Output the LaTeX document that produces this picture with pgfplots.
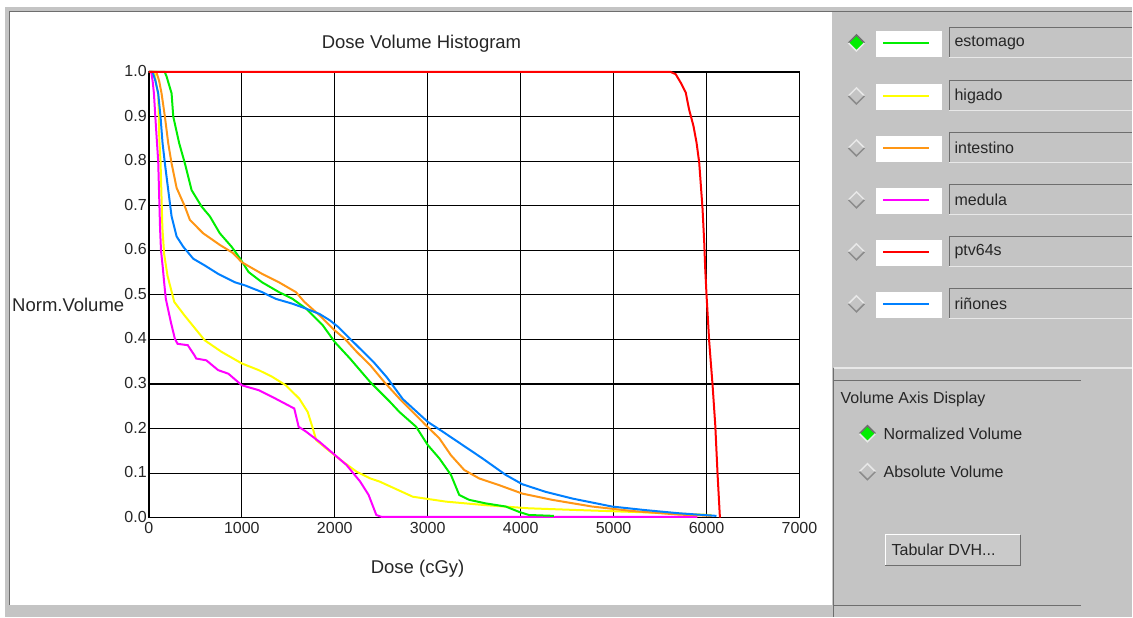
\documentclass[border=0pt]{standalone}
\usepackage{fontspec}
\setmainfont{Liberation Sans}
\usepackage{pgfplots}
\pgfplotsset{compat=1.18}
\definecolor{panel}{RGB}{196,196,196}
\definecolor{dgray}{RGB}{110,110,110}
\definecolor{lgray}{RGB}{232,232,232}
\definecolor{cgreen}{RGB}{0,238,0}
\definecolor{cyellow}{RGB}{255,255,0}
\definecolor{corange}{RGB}{255,150,20}
\definecolor{cmagenta}{RGB}{255,0,255}
\definecolor{cred}{RGB}{255,0,0}
\definecolor{cblue}{RGB}{0,128,255}
\newcommand{\gfont}{\fontsize{16bp}{19bp}\selectfont}
\newcommand{\lfont}{\fontsize{18.5bp}{22bp}\selectfont}
\begin{document}
\begin{tikzpicture}
\begin{scope}[x=1bp,y=-1bp,font=\gfont]
  % background
  \fill[white] (0,0) rectangle (1133,617);
  \fill[panel] (5,7) rectangle (1133,617);
  \fill[white] (10,12) rectangle (833,605);
  \draw[dgray,line width=1bp] (10,605) -- (10,12) -- (833,12);
  \draw[dgray,line width=1bp] (833,12) -- (1133,12);
  % right panel separators
  \draw[lgray,line width=1.5bp] (835,368) -- (1133,368);
  \draw[dgray,line width=1bp] (835,381) -- (1082,381);
  \draw[dgray,line width=1bp] (835,606) -- (1082,606);
  \draw[dgray,line width=1bp] (834,368) -- (834,617);
  % legend rows
  \foreach \yy/\col/\name/\sel in {43/cgreen/estomago/1,96/cyellow/higado/0,148/corange/intestino/0,200/cmagenta/medula/0,252/cred/ptv64s/0,304/cblue/riñones/0}{
    \ifnum\sel=1
      \fill[cgreen] (857,\yy-8) -- (865,\yy) -- (857,\yy+8) -- (849,\yy) -- cycle;
      \draw[dgray,line width=1.5bp] (849,\yy) -- (857,\yy-8) -- (865,\yy);
      \draw[lgray,line width=1.5bp] (849,\yy) -- (857,\yy+8) -- (865,\yy);
    \else
      \draw[lgray,line width=1.5bp] (849,\yy) -- (857,\yy-8) -- (865,\yy);
      \draw[dgray!80,line width=1.5bp] (849,\yy) -- (857,\yy+8) -- (865,\yy);
    \fi
    \fill[white] (877,\yy-12) rectangle (943,\yy+14);
    \draw[\col,line width=2bp] (884,\yy) -- (930,\yy);
    \draw[dgray,line width=1bp] (950,\yy+15) -- (950,\yy-15) -- (1133,\yy-15);
    \draw[lgray,line width=1bp] (950,\yy+15) -- (1133,\yy+15);
    \node[anchor=west,inner sep=0pt,text=black!85] at (955,\yy) {\name};
  }
  % bottom panel
  \node[anchor=west,inner sep=0pt,text=black!85] at (841,400) {Volume Axis Display};
  \fill[cgreen] (868,434-8) -- (876,434) -- (868,434+8) -- (860,434) -- cycle;
  \draw[dgray,line width=1.5bp] (860,434) -- (868,426) -- (876,434);
  \draw[lgray,line width=1.5bp] (860,434) -- (868,442) -- (876,434);
  \node[anchor=west,inner sep=0pt,text=black!85] at (884,434) {Normalized Volume};
  \draw[lgray,line width=1.5bp] (860,472) -- (868,464) -- (876,472);
  \draw[dgray!80,line width=1.5bp] (860,472) -- (868,480) -- (876,472);
  \node[anchor=west,inner sep=0pt,text=black!85] at (884,472) {Absolute Volume};
  \fill[panel!90!white] (886,535) rectangle (1021,566);
  \draw[white,line width=1.2bp] (886,566) -- (886,535) -- (1021,535);
  \draw[dgray,line width=1.5bp] (886,566) -- (1021,566) -- (1021,535);
  \node[anchor=west,inner sep=0pt,text=black!85] at (892,550) {Tabular DVH...};
\end{scope}
\begin{axis}[
  at={(149bp,-518bp)}, anchor=south west,
  scale only axis, width=651bp, height=446bp,
  xmin=0, xmax=7000, ymin=0, ymax=1,
  clip=false,
  font=\gfont,
  xtick={0,1000,2000,3000,4000,5000,6000,7000},
  xticklabels={0,1000,2000,3000,4000,5000,6000,7000},
  ytick={0,0.1,0.2,0.3,0.4,0.5,0.6,0.7,0.8,0.9,1},
  yticklabels={0.0,0.1,0.2,0.3,0.4,0.5,0.6,0.7,0.8,0.9,1.0},
  major tick length=0pt,
  xticklabel style={anchor=north,inner sep=0pt,yshift=-4bp,text=black!85},
  yticklabel style={anchor=east,inner sep=0pt,xshift=-2bp,yshift=1bp,text=black!85},
  grid=major,
  major grid style={black,line width=1.1bp},
  axis line style={black,line width=1.2bp},
  title={Dose Volume Histogram},
  every axis title/.style={at={(axis description cs:0.419,1.063)},anchor=center,inner sep=0pt,text=black!85,font=\lfont},
  xlabel={Dose (cGy)},
  every axis x label/.style={at={(axis description cs:0.413,-0.114)},anchor=center,inner sep=0pt,text=black!85,font=\lfont},
  ylabel={Norm.Volume},
  every axis y label/.style={at={(axis description cs:-0.2104,0.4776)},anchor=west,inner sep=0pt,text=black!85,font=\lfont},
  every axis plot/.append style={line width=2bp},
]
% higado
\addplot[cyellow] coordinates {(0,1) (60,1) (80,0.97) (100,0.952) (112,0.85) (125,0.80) (145,0.65) (165,0.59) (200,0.543) (273,0.484) (382,0.454) (600,0.398) (782,0.372) (1000,0.346) (1182,0.331) (1327,0.316) (1473,0.297) (1618,0.267) (1709,0.237) (1764,0.2) (1800,0.174) (1909,0.155) (2091,0.125) (2236,0.103) (2382,0.088) (2482,0.081) (2839,0.047) (3196,0.036) (3625,0.028) (4089,0.021) (4625,0.017) (5339,0.012) (6054,0.006)};
% medula
\addplot[cmagenta] coordinates {(0,1) (25,1) (40,0.98) (54,0.952) (75,0.88) (100,0.8) (120,0.65) (130,0.6) (150,0.56) (164,0.528) (182,0.491) (236,0.439) (280,0.401) (309,0.39) (418,0.387) (491,0.364) (509,0.357) (618,0.353) (745,0.331) (855,0.323) (1000,0.297) (1182,0.286) (1327,0.271) (1527,0.249) (1564,0.245) (1611,0.204) (1691,0.193) (1836,0.17) (1982,0.144) (2127,0.118) (2273,0.081) (2364,0.051) (2447,0.006) (2500,0.002) (5900,0.002)};
% estomago
\addplot[cgreen] coordinates {(0,1) (170,1) (190,0.99) (244,0.952) (262,0.90) (326,0.84) (387,0.795) (459,0.735) (567,0.698) (656,0.676) (763,0.638) (889,0.608) (979,0.582) (1073,0.551) (1218,0.528) (1400,0.506) (1545,0.491) (1691,0.469) (1873,0.431) (2000,0.394) (2164,0.357) (2382,0.304) (2593,0.26) (2696,0.237) (2875,0.204) (3000,0.163) (3125,0.133) (3250,0.096) (3339,0.051) (3446,0.04) (3625,0.032) (3839,0.025) (3982,0.013) (4089,0.006) (4357,0.004)};
% intestino
\addplot[corange] coordinates {(0,1) (80,1) (110,0.98) (136,0.952) (172,0.90) (208,0.84) (244,0.795) (298,0.74) (387,0.698) (441,0.668) (584,0.638) (763,0.612) (903,0.594) (1000,0.573) (1218,0.547) (1400,0.528) (1582,0.506) (1673,0.484) (1836,0.454) (2000,0.42) (2109,0.401) (2236,0.372) (2382,0.342) (2530,0.305) (2696,0.267) (2982,0.207) (3125,0.178) (3250,0.14) (3393,0.107) (3554,0.088) (3768,0.073) (4018,0.054) (4339,0.04) (4768,0.025) (5196,0.015) (5696,0.007) (6054,0.004)};
% rinones
\addplot[cblue] coordinates {(0,1) (40,1) (70,0.98) (100,0.952) (125,0.90) (147,0.84) (172,0.795) (208,0.735) (244,0.676) (298,0.631) (369,0.608) (477,0.581) (600,0.566) (745,0.547) (927,0.528) (1036,0.521) (1218,0.506) (1364,0.491) (1545,0.48) (1691,0.469) (1836,0.457) (1945,0.443) (2036,0.428) (2127,0.409) (2273,0.379) (2418,0.349) (2560,0.315) (2732,0.266) (3000,0.215) (3161,0.193) (3375,0.163) (3589,0.133) (3839,0.096) (4018,0.075) (4268,0.058) (4554,0.043) (4982,0.025) (5339,0.017) (5696,0.01) (6107,0.004)};
% ptv64s
\addplot[cred] coordinates {(0,1) (5614,1) (5668,0.995) (5722,0.976) (5776,0.954) (5812,0.916) (5859,0.879) (5892,0.842) (5921,0.797) (5939,0.745) (5957,0.693) (5975,0.618) (5986,0.558) (6000,0.499) (6029,0.394) (6065,0.297) (6094,0.207) (6119,0.096) (6144,0)};
\end{axis}
\end{tikzpicture}
\end{document}
